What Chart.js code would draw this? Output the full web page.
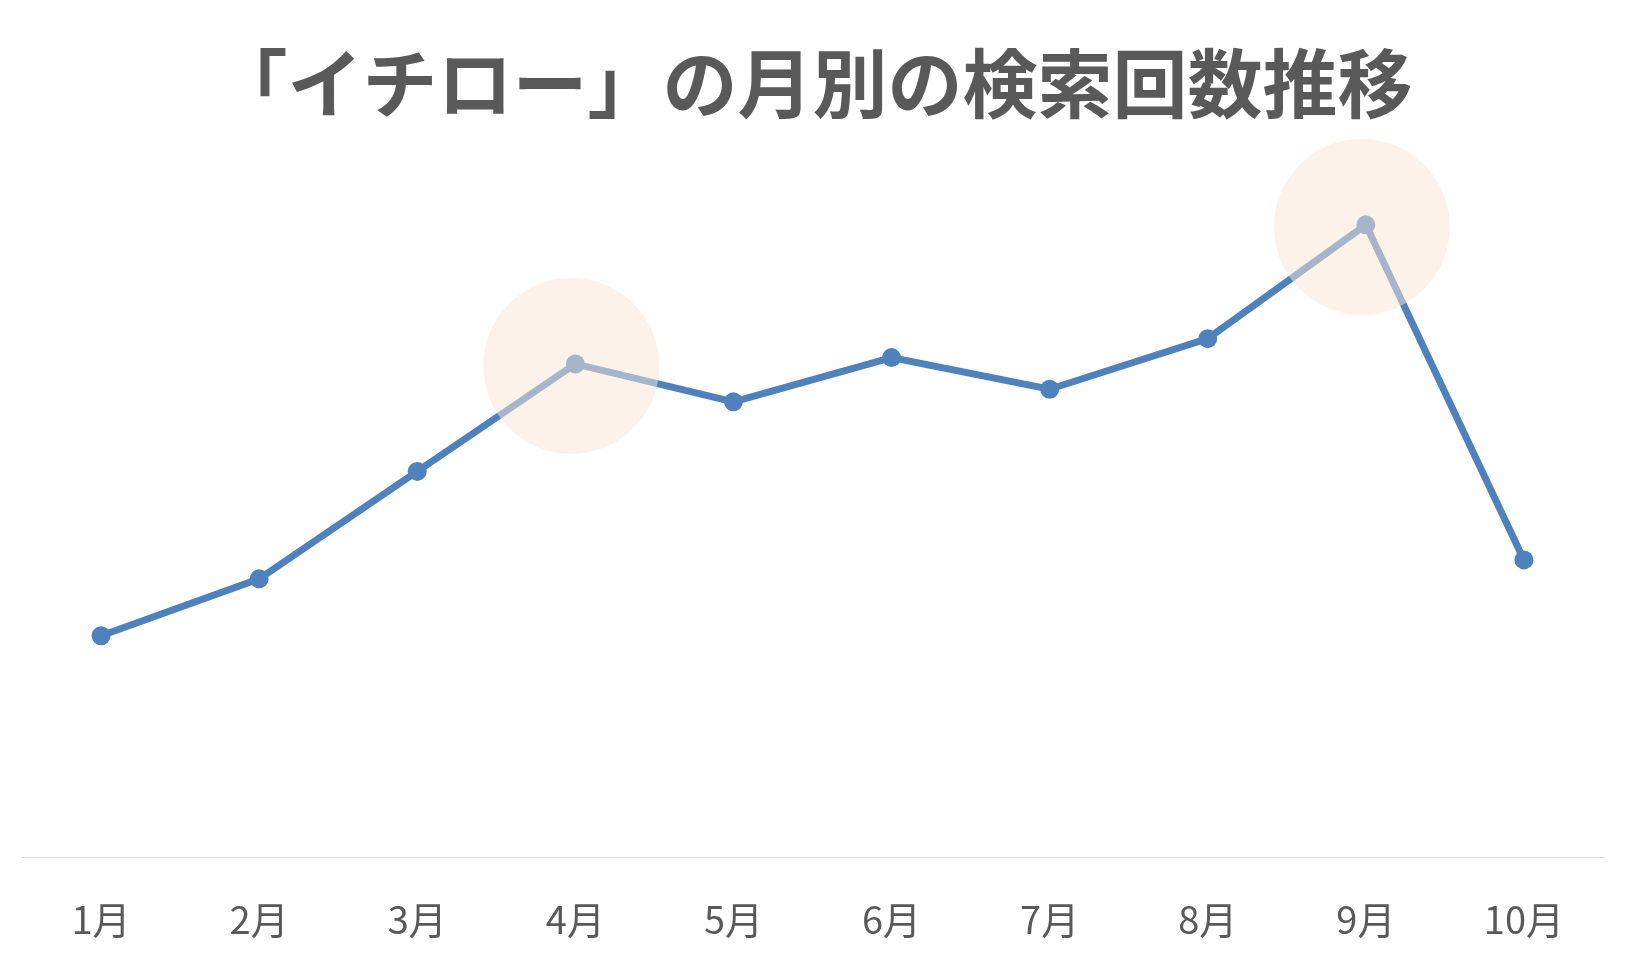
<!DOCTYPE html>
<html lang="ja">
<head>
    <meta charset="UTF-8">
    <title>「イチロー」の月別の検索回数推移</title>
    <script src="https://cdn.jsdelivr.net/npm/chart.js"></script>
    <style>
        body { margin: 0; background: #fff; }
    </style>
</head>
<body>
    <canvas id="searchChart" width="1625" height="976"></canvas>
    <script>
        // Data (index, peak month = 100)
        const months = ['1月', '2月', '3月', '4月', '5月', '6月', '7月', '8月', '9月', '10月'];
        const searchCounts = [35, 44, 61, 78, 72, 79, 74, 82, 100, 47];
        const highlightMonths = ['4月', '9月'];

        // Soft circles drawn over the highlighted points
        const highlightPlugin = {
            id: 'highlightCircles',
            afterDatasetsDraw(chart) {
                const { ctx, scales } = chart;
                ctx.save();
                ctx.fillStyle = 'rgba(250, 230, 215, 0.52)';
                highlightMonths.forEach(month => {
                    const i = months.indexOf(month);
                    const x = scales.x.getPixelForValue(i);
                    const y = scales.y.getPixelForValue(searchCounts[i]);
                    ctx.beginPath();
                    ctx.arc(x - 4, y + 2, 88, 0, Math.PI * 2);
                    ctx.fill();
                });
                ctx.restore();
            }
        };

        const ctx = document.getElementById('searchChart').getContext('2d');
        new Chart(ctx, {
            type: 'line',
            data: {
                labels: months,
                datasets: [{
                    data: searchCounts,
                    borderColor: '#4f81bd',
                    backgroundColor: '#4f81bd',
                    borderWidth: 7,
                    pointRadius: 9.5,
                    pointBorderWidth: 0,
                    pointBackgroundColor: '#4f81bd',
                    tension: 0,
                    fill: false
                }]
            },
            options: {
                responsive: false,
                animation: false,
                layout: {
                    padding: { left: 22, right: 22, top: 0, bottom: 35 }
                },
                plugins: {
                    legend: { display: false },
                    tooltip: { enabled: false },
                    title: {
                        display: true,
                        text: '「イチロー」の月別の検索回数推移',
                        color: '#595959',
                        font: { family: '"Noto Sans CJK JP", "Noto Sans", sans-serif', size: 75, weight: 'bold', lineHeight: 1.2 },
                        padding: { top: 38, bottom: 21 }
                    }
                },
                scales: {
                    x: {
                        offset: true,
                        grid: { display: false, drawTicks: false },
                        border: { display: true, color: '#d9d9d9', width: 1 },
                        ticks: {
                            color: '#595959',
                            padding: 40,
                            font: { family: '"Noto Sans CJK JP", "Noto Sans", sans-serif', size: 38, lineHeight: 1.2 }
                        },
                        afterFit(scale) {
                            scale.height = 84;
                        }
                    },
                    y: {
                        display: false,
                        min: 0,
                        max: 112
                    }
                }
            },
            plugins: [highlightPlugin]
        });
    </script>
</body>
</html>
